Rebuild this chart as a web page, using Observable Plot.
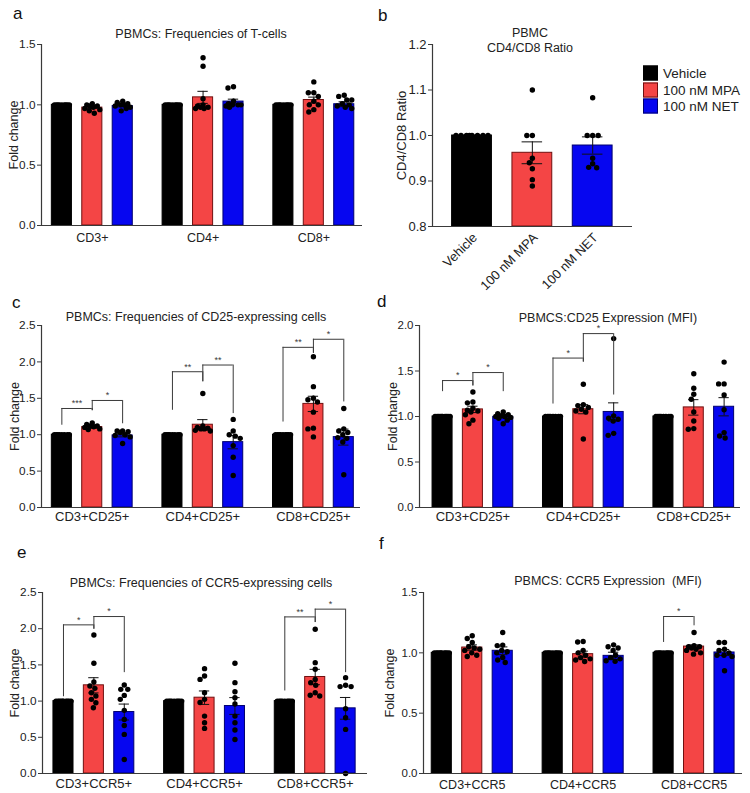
<!DOCTYPE html>
<html><head><meta charset="utf-8">
<script src="https://cdn.jsdelivr.net/npm/d3@7"></script>
<script src="https://cdn.jsdelivr.net/npm/@observablehq/plot@0.6"></script>
<style>
html,body{margin:0;padding:0;background:#fff}
#fig{position:relative;width:750px;height:793px;overflow:hidden;font-family:"Liberation Sans",Arial,Helvetica,sans-serif;color:#222}
.abs{position:absolute;white-space:nowrap;line-height:1}
.ttl{transform:translate(-50%,-50%);font-size:12.5px}
.let{transform:translateY(-50%);font-size:17px;color:#111}
.leg{position:absolute;left:643px;font-size:13.5px;display:flex;align-items:center;transform:translateY(-50%)}
.leg span.sw{display:inline-block;width:15px;height:15px;margin-right:5px;box-sizing:border-box;border:1px solid}
</style></head>
<body><div id="fig"></div>
<script>
// ---------------- DATA ----------------
const seriesNames = ["Vehicle", "100 nM MPA", "100 nM NET"];

// a: PBMCs: Frequencies of T-cells
const groupsA = ["CD3+", "CD4+", "CD8+"];
const meansA = [[1, 0.977, 0.99], [1, 1.062, 1.027], [1, 1.04, 1.005]];
const semsA = [[0, 0.008, 0.007], [0, 0.05, 0.02], [0, 0.024, 0.02]];
const dotsA = [
  [[1,1,1,1,1,1,1,1,1], [1.01,1.0,0.99,0.99,0.98,0.97,0.96,0.95,0.93], [1.03,1.02,1.01,1.0,1.0,0.99,0.98,0.97,0.95]],
  [[1,1,1,1,1,1,1,1,1], [1.39,1.32,1.05,1.0,0.99,0.98,0.97,0.97,0.98], [1.15,1.14,1.03,1.01,1.0,1.0,0.99,0.98,1.0]],
  [[1,1,1,1,1,1,1,1,1], [1.19,1.10,1.10,1.07,1.03,1.0,1.0,0.96,0.94], [1.08,1.07,1.04,1.04,1.01,1.0,0.99,0.98,0.97]]
];
const bracketsA = [];
const ticksA = [0, 0.5, 1.0, 1.5];

// b: PBMC CD4/CD8 Ratio
const meansB = [[1.0, 0.962, 0.978]];
const semsB = [[0, 0.024, 0.019]];
const dotsB = [[[1,1,1,1,1,1,1,1], [1.10,1.0,1.0,0.95,0.94,0.927,0.903,0.889], [1.083,1.0,1.0,1.0,0.95,0.938,0.929,0.93]]];
const ticksB = [0.8, 0.9, 1.0, 1.1, 1.2];

// c: PBMCs: Frequencies of CD25-expressing cells
const groupsC = ["CD3+CD25+", "CD4+CD25+", "CD8+CD25+"];
const meansC = [[1, 1.105, 0.99], [1, 1.137, 0.898], [1, 1.423, 0.967]];
const semsC = [[0, 0.015, 0.02], [0, 0.07, 0.092], [0, 0.105, 0.11]];
const dotsC = [
  [[1,1,1,1,1,1,1,1], [1.16,1.14,1.12,1.12,1.11,1.10,1.08,1.07], [1.05,1.05,1.04,1.03,1.0,0.99,0.97,0.88]],
  [[1,1,1,1,1,1,1,1], [1.565,1.12,1.1,1.09,1.08,1.08,1.06,1.05], [1.21,1.05,1.0,0.98,0.95,0.85,0.69,0.44]],
  [[1,1,1,1,1,1,1,1,1], [2.07,1.66,1.50,1.48,1.45,1.31,1.09,1.08,0.97], [1.36,1.08,1.05,1.03,1.0,0.96,0.95,0.90,0.45]]
];
// [group, from series, to series, bracket top, left leg end, right leg end, label]
const bracketsC = [
  [0, 0, 1, 1.36, 1.13, 1.33, "***"], [0, 1, 2, 1.47, 1.33, 1.15, "*"],
  [1, 0, 1, 1.865, 1.335, 1.727, "**"], [1, 1, 2, 1.957, 1.727, 1.29, "**"],
  [2, 0, 1, 2.20, 1.174, 2.118, "**"], [2, 1, 2, 2.311, 2.118, 1.45, "*"]
];
const ticksC = [0, 0.5, 1.0, 1.5, 2.0, 2.5];

// d: PBMCS:CD25 Expression (MFI)
const groupsD = ["CD3+CD25+", "CD4+CD25+", "CD8+CD25+"];
const meansD = [[1, 1.078, 0.996], [1, 1.08, 1.05], [1, 1.10, 1.107]];
const semsD = [[0, 0.035, 0.012], [0, 0.05, 0.1], [0, 0.085, 0.1]];
const dotsD = [
  [[1,1,1,1,1,1,1,1,1,1], [1.27,1.16,1.15,1.09,1.07,1.06,1.05,1.02,0.96,0.92], [1.05,1.03,1.02,1.01,1.0,1.0,0.99,0.98,0.96,0.92]],
  [[1,1,1,1,1,1,1,1], [1.354,1.13,1.12,1.10,1.08,1.06,1.05,0.753], [1.856,1.007,0.98,0.97,0.95,0.815,0.793]],
  [[1,1,1,1,1,1,1,1], [1.469,1.31,1.244,1.19,1.05,0.95,0.867,0.86], [1.598,1.358,1.358,1.236,1.074,0.823,0.786,0.764]]
];
const bracketsD = [
  [0, 0, 1, 1.395, 1.273, 1.336, "*"], [0, 1, 2, 1.483, 1.336, 1.273, "*"],
  [1, 0, 1, 1.642, 1.137, 1.598, "*"], [1, 1, 2, 1.911, 1.598, 1.236, "*"]
];
const ticksD = [0, 0.5, 1.0, 1.5, 2.0];

// e: PBMCs: Frequencies of CCR5-expressing cells
const groupsE = ["CD3+CCR5+", "CD4+CCR5+", "CD8+CCR5+"];
const meansE = [[1, 1.218, 0.849], [1, 1.047, 0.932], [1, 1.333, 0.9]];
const semsE = [[0, 0.105, 0.11], [0, 0.093, 0.116], [0, 0.106, 0.15]];
const dotsE = [
  [[1,1,1,1,1,1,1,1,1,1], [1.914,1.522,1.264,1.208,1.176,1.116,1.07,1.024,0.978,0.909], [1.222,1.162,1.162,1.079,1.024,0.872,0.747,0.664,0.54,0.194]],
  [[1,1,1,1,1,1,1,1,1], [1.448,1.347,1.30,1.116,1.024,0.98,0.793,0.70,0.623], [1.522,1.255,1.13,1.047,0.96,0.793,0.70,0.60,0.47]],
  [[1,1,1,1,1,1,1,1,1], [1.993,1.531,1.439,1.30,1.255,1.218,1.116,1.08,1.07], [1.324,1.218,1.2,1.2,0.895,0.77,0.609,0.0]]
];
const bracketsE = [
  [0, 0, 1, 2.053, 1.06, 1.993, "*"], [0, 1, 2, 2.168, 1.993, 1.393, "*"],
  [2, 0, 1, 2.163, 1.14, 2.085, "**"], [2, 1, 2, 2.27, 2.085, 1.393, "*"]
];
const ticksE = [0, 0.5, 1.0, 1.5, 2.0, 2.5];

// f: PBMCS: CCR5 Expression (MFI)
const groupsF = ["CD3+CCR5", "CD4+CCR5", "CD8+CCR5"];
const meansF = [[1, 1.044, 1.017], [1, 0.989, 0.975], [1, 1.052, 1.003]];
const semsF = [[0, 0.022, 0.032], [0, 0.025, 0.03], [0, 0.014, 0.025]];
const dotsF = [
  [[1,1,1,1,1,1,1,1,1,1], [1.141,1.119,1.086,1.05,1.04,1.03,1.02,1.0,0.98,0.97], [1.169,1.064,1.06,1.02,1.01,1.0,0.961,0.94,0.92]],
  [[1,1,1,1,1,1,1,1,1], [1.094,1.09,1.02,1.0,0.98,0.96,0.95,0.94,0.928], [1.066,1.05,1.04,1.02,0.98,0.96,0.95,0.934,0.93]],
  [[1,1,1,1,1,1,1,1,1], [1.169,1.06,1.05,1.05,1.04,1.03,1.02,1.0,0.989], [1.086,1.086,1.03,1.02,1.0,0.98,0.98,0.97,0.851]]
];
const bracketsF = [[2, 0, 1, 1.301, 1.086, 1.224, "*"]];
const ticksF = [0, 0.5, 1.0, 1.5];

// ---------------- STYLE / LAYOUT ----------------
const FONT = '"Liberation Sans", Arial, Helvetica, sans-serif';
const FILLS = ["#000000", "#f44545", "#0606f0"];
const STROKES = ["#000000", "#701010", "#000070"];
const AX = "#3a3a3a", TXT = "#222";
const HW = 0.33, CAP = 0.17, R = 2.7;

function swarm(values, ky, maxOff) {
  const order = values.map((v, i) => i).sort((a, b) => values[b] - values[a]);
  const cands = [0];
  for (let o = 0.5; o <= maxOff + 1e-9; o += 0.5) cands.push(-o, o);
  const placed = [], out = new Array(values.length);
  for (const i of order) {
    const yp = values[i] * ky;
    let best = 0, bestD = -1;
    for (const c of cands) {
      let md = Infinity;
      for (const p of placed) md = Math.min(md, Math.hypot(p.x - c, p.y - yp));
      if (md >= 2 * R) { best = c; break; }
      if (md > bestD + 1e-9) { bestD = md; best = c; }
    }
    placed.push({x: best, y: yp});
    out[i] = best;
  }
  return out;
}

function panel(d, lay) {
  const nG = d.means.length;
  const pos = (g, s) => g * lay.groupStep + s;
  const xDom = [-lay.padL, pos(nG - 1, 2) + lay.padR];
  const [y0, y1] = d.yDomain;
  const mL = lay.axisX - lay.left, mR = lay.left + lay.width - lay.axisEnd;
  const mT = lay.yTop - lay.top, mB = lay.top + lay.height - lay.yBottom;
  const kx = (lay.axisEnd - lay.axisX) / (xDom[1] - xDom[0]);
  const ky = (lay.yBottom - lay.yTop) / (y1 - y0);
  const bars = [], errs = [], pts = [];
  for (let g = 0; g < nG; g++) for (let s = 0; s < 3; s++) {
    const x = pos(g, s), m = d.means[g][s], e = d.sems[g][s];
    bars.push({x, s, m});
    if (e > 0) errs.push({x, lo: m - e, hi: m + e});
    const vals = d.dots[g][s];
    const offs = swarm(vals, ky, lay.maxOff);
    vals.forEach((v, i) => pts.push({x: x + offs[i] / kx, v}));
  }
  const marks = [];
  for (let s = 0; s < 3; s++) {
    marks.push(Plot.rectY(bars.filter(b => b.s === s), {
      x1: b => b.x - HW, x2: b => b.x + HW, y1: y0, y2: "m",
      fill: FILLS[s], stroke: STROKES[s], strokeWidth: 1
    }));
  }
  marks.push(Plot.ruleX(errs, {x: "x", y1: "lo", y2: "hi", stroke: "#111", strokeWidth: 1}));
  marks.push(Plot.ruleY(errs, {y: "hi", x1: e => e.x - CAP, x2: e => e.x + CAP, stroke: "#111", strokeWidth: 1}));
  marks.push(Plot.ruleY(errs, {y: "lo", x1: e => e.x - CAP, x2: e => e.x + CAP, stroke: "#111", strokeWidth: 1}));
  marks.push(Plot.dot(pts, {x: "x", y: "v", r: R, fill: "#000", stroke: "none"}));
  // brackets
  const br = d.brackets.map(([g, a, b, top, l, r, label]) => ({xa: pos(g, a), xb: pos(g, b), top, l, r, label}));
  marks.push(Plot.ruleY(br, {y: "top", x1: "xa", x2: "xb", stroke: AX, strokeWidth: 1}));
  marks.push(Plot.ruleX(br, {x: "xa", y1: "l", y2: "top", stroke: AX, strokeWidth: 1}));
  marks.push(Plot.ruleX(br, {x: "xb", y1: "r", y2: "top", stroke: AX, strokeWidth: 1}));
  marks.push(Plot.text(br, {x: b => (b.xa + b.xb) / 2, y: "top", text: "label", fontSize: 9, dy: -5, fill: AX}));
  // axes
  marks.push(Plot.ruleY([y0], {stroke: AX, strokeWidth: 1.2}));
  marks.push(Plot.ruleX([xDom[0]], {stroke: AX, strokeWidth: 1.2}));
  marks.push(Plot.axisY(d.yTicks, {tickSize: 4, tickPadding: 2, tickFormat: d3.format(".1f"), fontSize: lay.tickFont, stroke: AX, fill: TXT, label: null}));
  if (d.rotated) {
    const rows = d.xLabels.map((t, s) => ({x: pos(0, s), t}));
    marks.push(Plot.text(rows, {x: "x", y: y0, text: "t", rotate: -45, textAnchor: "end", dy: lay.labelDy, dx: 3, fontSize: 13, fill: TXT}));
  } else {
    const rows = d.xLabels.map((t, g) => ({x: pos(g, 1), t}));
    marks.push(Plot.text(rows, {x: "x", y: y0, text: "t", dy: lay.labelDy, fontSize: lay.xFont, fill: TXT}));
  }
  marks.push(Plot.text([d.yLabel], {frameAnchor: "left", textAnchor: "middle", lineAnchor: "middle", text: t => t, rotate: -90, dx: lay.labelDx, fontSize: lay.yLabFont, fill: TXT}));
  const svg = Plot.plot({
    width: lay.width, height: lay.height,
    marginLeft: mL, marginRight: mR, marginTop: mT, marginBottom: mB,
    x: {domain: xDom, axis: null},
    y: {domain: d.yDomain, axis: null},
    style: {background: "transparent", overflow: "visible", fontFamily: FONT, fontSize: "12px", color: TXT},
    marks
  });
  const wrap = document.createElement("div");
  wrap.className = "abs";
  wrap.style.left = lay.left + "px";
  wrap.style.top = lay.top + "px";
  wrap.appendChild(svg);
  fig.appendChild(wrap);
}

const fig = document.getElementById("fig");

panel({means: meansA, sems: semsA, dots: dotsA, brackets: bracketsA, yDomain: [0, 1.5], yTicks: ticksA, xLabels: groupsA, yLabel: "Fold change"},
  {left: 0, top: 0, width: 375, height: 255, axisX: 41, axisEnd: 362, yTop: 44, yBottom: 225, groupStep: 3.64, padL: 0.67, padR: 0.6, maxOff: 7.5, labelDy: 12, labelDx: -28, tickFont: 11.8, xFont: 12.5, yLabFont: 12.5});
panel({means: meansB, sems: semsB, dots: dotsB, brackets: [], yDomain: [0.8, 1.2], yTicks: ticksB, xLabels: seriesNames, rotated: true, yLabel: "CD4/CD8 Ratio"},
  {left: 375, top: 0, width: 265, height: 300, axisX: 432, axisEnd: 632, yTop: 44, yBottom: 226, groupStep: 3.64, padL: 0.655, padR: 0.66, maxOff: 16, labelDy: 9, labelDx: -31, tickFont: 13, yLabFont: 13});
panel({means: meansC, sems: semsC, dots: dotsC, brackets: bracketsC, yDomain: [0, 2.5], yTicks: ticksC, xLabels: groupsC, yLabel: "Fold change"},
  {left: 0, top: 262, width: 375, height: 265, axisX: 41, axisEnd: 360, yTop: 325, yBottom: 507, groupStep: 3.64, padL: 0.67, padR: 0.55, maxOff: 7.5, labelDy: 9, labelDx: -27, tickFont: 11.8, xFont: 13, yLabFont: 12.5});
panel({means: meansD, sems: semsD, dots: dotsD, brackets: bracketsD, yDomain: [0, 2.0], yTicks: ticksD, xLabels: groupsD, yLabel: "Fold change"},
  {left: 375, top: 262, width: 375, height: 265, axisX: 419, axisEnd: 740, yTop: 325, yBottom: 507, groupStep: 3.64, padL: 0.76, padR: 0.54, maxOff: 7.5, labelDy: 9, labelDx: -27, tickFont: 11.5, xFont: 13, yLabFont: 12.5});
panel({means: meansE, sems: semsE, dots: dotsE, brackets: bracketsE, yDomain: [0, 2.5], yTicks: ticksE, xLabels: groupsE, yLabel: "Fold change"},
  {left: 0, top: 530, width: 375, height: 263, axisX: 42, axisEnd: 367, yTop: 592, yBottom: 773, groupStep: 3.64, padL: 0.69, padR: 0.72, maxOff: 7.5, labelDy: 10, labelDx: -28, tickFont: 11.8, xFont: 13, yLabFont: 12.5});
panel({means: meansF, sems: semsF, dots: dotsF, brackets: bracketsF, yDomain: [0, 1.5], yTicks: ticksF, xLabels: groupsF, yLabel: "Fold change"},
  {left: 375, top: 530, width: 375, height: 263, axisX: 423, axisEnd: 742, yTop: 592, yBottom: 773, groupStep: 3.64, padL: 0.6, padR: 0.59, maxOff: 7.5, labelDy: 11, labelDx: -34, tickFont: 11.5, xFont: 12.5, yLabFont: 12.5});

// ---------------- HTML TEXT: letters, titles, legend ----------------
function addText(cls, text, x, y, extra) {
  const el = document.createElement("div");
  el.className = "abs " + cls;
  el.textContent = text;
  el.style.left = x + "px";
  el.style.top = y + "px";
  if (extra) Object.assign(el.style, extra);
  fig.appendChild(el);
}
const panelLetters = ["a", "b", "c", "d", "e", "f"];
const letterPos = [[13, 13], [378, 15], [12, 302], [377, 301], [17, 552], [379, 543]];
panelLetters.forEach((t, i) => addText("let", t, letterPos[i][0], letterPos[i][1]));

const titles = ["PBMCs: Frequencies of T-cells", "PBMC", "CD4/CD8 Ratio", "PBMCs: Frequencies of CD25-expressing cells",
  "PBMCS:CD25 Expression (MFI)", "PBMCs: Frequencies of CCR5-expressing cells", "PBMCS: CCR5 Expression  (MFI)"];
const titlePos = [[201, 34], [530, 33], [530, 48], [196, 317], [608, 318], [201, 583], [608, 581]];
titles.forEach((t, i) => addText("ttl", t, titlePos[i][0], titlePos[i][1], {whiteSpace: "pre"}));

seriesNames.forEach((name, s) => {
  const row = document.createElement("div");
  row.className = "leg";
  row.style.top = [73, 89.5, 106][s] + "px";
  const sw = document.createElement("span");
  sw.className = "sw";
  sw.style.background = FILLS[s];
  sw.style.borderColor = STROKES[s];
  row.appendChild(sw);
  row.appendChild(document.createTextNode(name));
  fig.appendChild(row);
});
</script>
</body></html>
